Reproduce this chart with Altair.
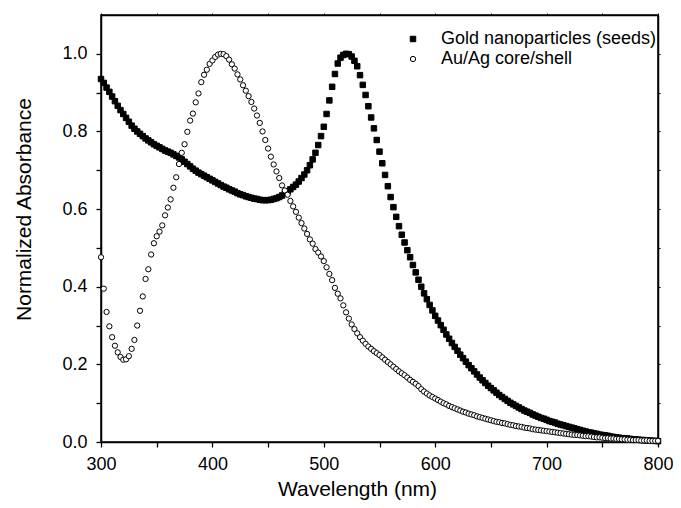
import altair as alt
import pandas as pd

# ---- data (2.5 nm sampling) ----
WAVELENGTH_NM = [300 + 2.5 * i for i in range(201)]

GOLD_SEEDS = [
    0.935, 0.925, 0.913, 0.902, 0.890, 0.878, 0.866, 0.855, 0.845, 0.835,
    0.825, 0.815, 0.807, 0.800, 0.794, 0.788, 0.782, 0.777, 0.772, 0.767,
    0.763, 0.759, 0.755, 0.751, 0.748, 0.745, 0.741, 0.737, 0.733, 0.728,
    0.722, 0.716, 0.710, 0.704, 0.699, 0.694, 0.690, 0.686, 0.682, 0.678,
    0.674, 0.670, 0.666, 0.662, 0.658, 0.655, 0.651, 0.648, 0.645, 0.641,
    0.638, 0.636, 0.633, 0.631, 0.629, 0.627, 0.626, 0.624, 0.623, 0.623,
    0.623, 0.624, 0.626, 0.628, 0.631, 0.635, 0.640, 0.645, 0.651, 0.657,
    0.663, 0.671, 0.680, 0.689, 0.700, 0.713, 0.728, 0.745, 0.765, 0.788,
    0.812, 0.845, 0.880, 0.915, 0.948, 0.975, 0.990, 0.997, 1.000, 0.999,
    0.993, 0.982, 0.968, 0.945, 0.920, 0.894, 0.865, 0.836, 0.808, 0.778,
    0.748, 0.718, 0.688, 0.659, 0.631, 0.605, 0.580, 0.556, 0.534, 0.514,
    0.494, 0.476, 0.456, 0.437, 0.418, 0.400, 0.383, 0.368, 0.353, 0.339,
    0.325, 0.313, 0.301, 0.289, 0.277, 0.266, 0.255, 0.245, 0.235, 0.225,
    0.216, 0.207, 0.198, 0.190, 0.182, 0.174, 0.166, 0.159, 0.152, 0.145,
    0.139, 0.133, 0.127, 0.121, 0.116, 0.111, 0.106, 0.101, 0.097, 0.093,
    0.089, 0.085, 0.081, 0.078, 0.075, 0.071, 0.068, 0.065, 0.062, 0.060,
    0.057, 0.054, 0.052, 0.050, 0.047, 0.045, 0.043, 0.041, 0.039, 0.037,
    0.035, 0.033, 0.031, 0.029, 0.027, 0.025, 0.024, 0.022, 0.021, 0.019,
    0.018, 0.017, 0.016, 0.014, 0.013, 0.012, 0.011, 0.010, 0.009, 0.009,
    0.008, 0.007, 0.007, 0.006, 0.005, 0.005, 0.004, 0.004, 0.003, 0.003,
    0.002,
]

AU_AG_CORE_SHELL = [
    0.476, 0.395, 0.335, 0.298, 0.270, 0.248, 0.231, 0.219, 0.212, 0.213,
    0.221, 0.240, 0.263, 0.300, 0.338, 0.375, 0.420, 0.445, 0.483, 0.512,
    0.530, 0.542, 0.558, 0.584, 0.604, 0.625, 0.655, 0.682, 0.716, 0.745,
    0.767, 0.799, 0.828, 0.846, 0.875, 0.898, 0.927, 0.946, 0.959, 0.974,
    0.983, 0.992, 0.998, 1.000, 0.999, 0.994, 0.985, 0.973, 0.962, 0.947,
    0.934, 0.919, 0.905, 0.891, 0.876, 0.859, 0.841, 0.822, 0.800, 0.778,
    0.756, 0.735, 0.715, 0.697, 0.680, 0.661, 0.648, 0.637, 0.621, 0.607,
    0.593, 0.578, 0.564, 0.550, 0.536, 0.522, 0.511, 0.497, 0.488, 0.478,
    0.466, 0.450, 0.433, 0.417, 0.397, 0.382, 0.370, 0.352, 0.334, 0.318,
    0.303, 0.291, 0.280, 0.270, 0.261, 0.253, 0.246, 0.240, 0.234, 0.229,
    0.224, 0.218, 0.212, 0.206, 0.200, 0.194, 0.188, 0.182, 0.177, 0.172,
    0.166, 0.160, 0.155, 0.150, 0.144, 0.136, 0.130, 0.125, 0.120, 0.116,
    0.112, 0.108, 0.104, 0.100, 0.097, 0.093, 0.090, 0.087, 0.084, 0.081,
    0.078, 0.076, 0.073, 0.071, 0.069, 0.066, 0.064, 0.062, 0.060, 0.058,
    0.056, 0.054, 0.052, 0.051, 0.049, 0.048, 0.046, 0.044, 0.043, 0.041,
    0.040, 0.039, 0.037, 0.036, 0.035, 0.033, 0.032, 0.031, 0.030, 0.029,
    0.028, 0.027, 0.026, 0.025, 0.024, 0.023, 0.022, 0.021, 0.020, 0.019,
    0.018, 0.018, 0.017, 0.016, 0.015, 0.015, 0.014, 0.013, 0.012, 0.012,
    0.011, 0.010, 0.010, 0.009, 0.009, 0.008, 0.008, 0.007, 0.007, 0.006,
    0.006, 0.005, 0.005, 0.005, 0.004, 0.004, 0.004, 0.003, 0.003, 0.003,
    0.003,
]

SERIES = ["Gold nanoparticles (seeds)", "Au/Ag core/shell"]
X_TICKS = [300, 350, 400, 450, 500, 550, 600, 650, 700, 750, 800]
Y_TICKS = [0.0, 0.1, 0.2, 0.3, 0.4, 0.5, 0.6, 0.7, 0.8, 0.9, 1.0]

FONT = "Liberation Sans"

rows = []
for name, vals in zip(SERIES, [GOLD_SEEDS, AU_AG_CORE_SHELL]):
    for w, v in zip(WAVELENGTH_NM, vals):
        rows.append({"wavelength": w, "absorbance": v, "series": name})
df = pd.DataFrame(rows)

x_scale = alt.Scale(domain=[300, 800], nice=False, zero=False)
y_scale = alt.Scale(domain=[0, 1.1], nice=False, zero=False)

points = alt.Chart(df).mark_point(
    filled=True, stroke="black", strokeWidth=1, opacity=1
).encode(
    x=alt.X(
        "wavelength:Q",
        scale=x_scale,
        axis=alt.Axis(
            values=X_TICKS,
            labelExpr="datum.value % 100 == 0 ? datum.label : ''",
            format="d",
            labelFlush=False,
            title="Wavelength (nm)",
            titleFont=FONT, titleFontSize=21, titleFontWeight="normal",
            titleColor="black",
            titleX=256, titleY=53, titleBaseline="alphabetic", titleAlign="center",
            labelFont=FONT, labelFontSize=18, labelColor="black",
            labelPadding=8, tickSize=5, tickColor="black", tickWidth=1.3,
            domainColor="black", domainWidth=1.5, grid=False,
        ),
    ),
    y=alt.Y(
        "absorbance:Q",
        scale=y_scale,
        axis=alt.Axis(
            values=Y_TICKS,
            labelExpr="round(datum.value * 10) % 2 == 0 ? format(datum.value, '.1f') : ''",
            labelFlush=False,
            title="Normalized Absorbance",
            titleFont=FONT, titleFontSize=21, titleFontWeight="normal",
            titleColor="black",
            titleAngle=270, titleX=-71, titleY=194, titleBaseline="alphabetic",
            titleAlign="center",
            labelFont=FONT, labelFontSize=18, labelColor="black",
            labelPadding=9, tickSize=5, tickColor="black", tickWidth=1.3,
            domainColor="black", domainWidth=1.5, grid=False,
        ),
    ),
    shape=alt.Shape(
        "series:N",
        scale=alt.Scale(domain=SERIES, range=["square", "circle"]),
        legend=alt.Legend(
            title=None, orient="none", legendX=303, legendY=15,
            direction="vertical", padding=0,
            labelFont=FONT, labelFontSize=18, labelColor="black",
            labelLimit=400, labelOffset=19, rowPadding=2,
            symbolStrokeColor="black", symbolStrokeWidth=1,
        ),
    ),
    fill=alt.Fill(
        "series:N",
        scale=alt.Scale(domain=SERIES, range=["black", "white"]),
    ),
    size=alt.Size(
        "series:N",
        scale=alt.Scale(domain=SERIES, range=[30, 28]),
    ),
    order=alt.Order("series:N", sort="descending"),
)

frame = alt.Chart(df).mark_point(opacity=0).encode(
    x=alt.X(
        "wavelength:Q", scale=x_scale,
        axis=alt.Axis(orient="top", values=X_TICKS, labels=False, title=None,
                      tickSize=2, tickColor="black", domainColor="black",
                      domainWidth=1.5, grid=False),
    ),
    y=alt.Y(
        "absorbance:Q", scale=y_scale,
        axis=alt.Axis(orient="right", values=Y_TICKS, labels=False, title=None,
                      tickSize=2, tickColor="black", domainColor="black",
                      domainWidth=1.5, grid=False),
    ),
)

chart = alt.layer(points, frame).resolve_axis(
    x="independent", y="independent"
).properties(
    width=557,
    height=427,
    autosize=alt.AutoSizeParams(type="none"),
    padding={"left": 93, "top": 7, "right": 15, "bottom": 58},
    background="white",
).configure_view(
    stroke="black", strokeWidth=1.5
)

chart.save("out.html", embed_options={"renderer": "svg", "actions": False})
